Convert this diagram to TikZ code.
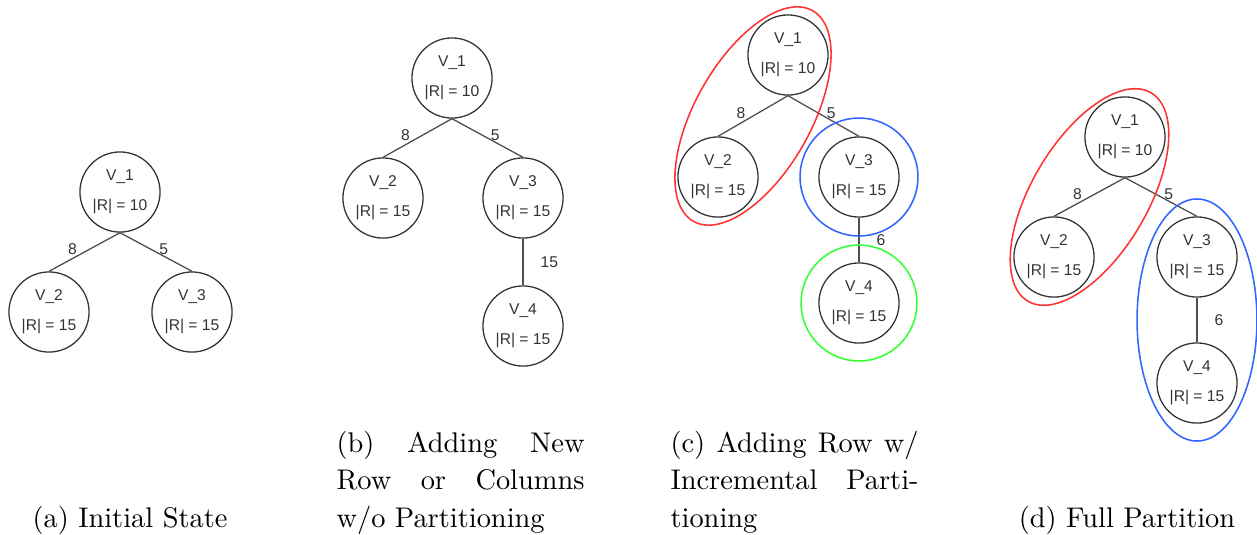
\documentclass[tikz,border=0pt]{standalone}
\usepackage{fontspec}
\newfontfamily\drawfont{Liberation Sans}
\usetikzlibrary{positioning,calc,shapes.geometric}
\definecolor{partred}{HTML}{FF3333}
\definecolor{partblue}{HTML}{3366FF}
\definecolor{partgreen}{HTML}{33FF33}
\definecolor{nodegray}{HTML}{333333}
\definecolor{edgegray}{HTML}{4D4D4D}
\newcommand{\vtx}[2]{V\_#1\\|R| = #2}
\newlength{\capw}
\setlength{\capw}{87.3pt}
\newcommand{\jline}[1]{\makebox[\capw][s]{#1}}

\begin{document}
\begin{tikzpicture}[
  x=0.352pt, y=-0.352pt,
  vert/.style={circle, draw=nodegray, line width=0.45pt, minimum size=28.2pt, inner sep=0pt, align=center, text=nodegray, font=\drawfont\fontsize{5.5}{10.5}\selectfont},
  edge/.style={draw=edgegray, line width=0.45pt},
  wlab/.style={inner sep=0pt, font=\drawfont\fontsize{5.5}{6.6}\selectfont, text=nodegray},
  part/.style={draw=#1, line width=0.55pt, inner sep=0pt},
  capt/.style={anchor=base west, inner sep=0pt, align=left, font=\fontsize{10}{13.2}\selectfont}
]
\useasboundingbox (0,0) rectangle (1257,534);

% (a) initial state
\node[vert] (a1) at (120,192) {\vtx{1}{10}};
\node[vert] (a2) at (49,312) {\vtx{2}{15}};
\node[vert] (a3) at (192,312) {\vtx{3}{15}};
\draw[edge] (a1.south) -- node[wlab, left=2.5pt, yshift=1pt] {8} (a2.north);
\draw[edge] (a1.south) -- node[wlab, right=1pt, yshift=1pt] {5} (a3.north);

% (b) new row, no partitioning
\node[vert] (b1) at (452,78) {\vtx{1}{10}};
\node[vert] (b2) at (383,198) {\vtx{2}{15}};
\node[vert] (b3) at (523,198) {\vtx{3}{15}};
\node[vert] (b4) at (523,326) {\vtx{4}{15}};
\draw[edge] (b1.south) -- node[wlab, left=2.5pt, yshift=1pt] {8} (b2.north);
\draw[edge] (b1.south) -- node[wlab, right=1pt, yshift=1pt] {5} (b3.north);
\draw[edge] (b3.south) -- node[wlab, right=6pt] {15} (b4.north);

% (c) incremental partitioning
\node[vert] (c1) at (788,55) {\vtx{1}{10}};
\node[vert] (c2) at (718,177) {\vtx{2}{15}};
\node[vert] (c3) at (859,177) {\vtx{3}{15}};
\node[vert] (c4) at (859,303) {\vtx{4}{15}};
\draw[edge] (c1.south) -- node[wlab, left=2.5pt, yshift=1pt] {8} (c2.north);
\draw[edge] (c1.south) -- node[wlab, right=1pt, yshift=1pt] {5} (c3.north);
\draw[edge] (c3.south) -- node[wlab, right=6pt] {6} (c4.north);
\node[part=partred, ellipse, minimum width=85.2pt, minimum height=40.8pt, rotate=60.5] (credpart) at ($(c1)!0.5!(c2)$) {};
\node[part=partblue, circle, minimum size=41.5pt] (cbluepart) at (c3) {};
\node[part=partgreen, circle, minimum size=40.8pt] (cgreenpart) at (c4) {};

% (d) full partition
\node[vert] (d1) at (1125,137) {\vtx{1}{10}};
\node[vert] (d2) at (1054,257) {\vtx{2}{15}};
\node[vert] (d3) at (1197,257) {\vtx{3}{15}};
\node[vert] (d4) at (1197,383) {\vtx{4}{15}};
\draw[edge] (d1.south) -- node[wlab, left=2.5pt, yshift=1pt] {8} (d2.north);
\draw[edge] (d1.south) -- node[wlab, right=1pt, yshift=1pt] {5} (d3.north);
\draw[edge] (d3.south) -- node[wlab, right=6pt] {6} (d4.north);
\node[part=partred, ellipse, minimum width=85.2pt, minimum height=40.8pt, rotate=59.4] (dredpart) at ($(d1)!0.5!(d2)$) {};
\node[part=partblue, ellipse, minimum width=42.2pt, minimum height=85.2pt] (dbluepart) at ($(d3)!0.5!(d4)$) {};

% captions
\node[capt, anchor=base] (capa) at (130,527) {(a) Initial State};
\node[capt] (capb) at (336,527) {\jline{(b) Adding New}\\\jline{Row or Columns}\\w/o Partitioning};
\node[capt] (capc) at (670,527) {\jline{(c) Adding Row w/}\\\jline{Incremental Parti-}\\tioning};
\node[capt, anchor=base] (capd) at (1127,527) {(d) Full Partition};
\end{tikzpicture}
\end{document}
